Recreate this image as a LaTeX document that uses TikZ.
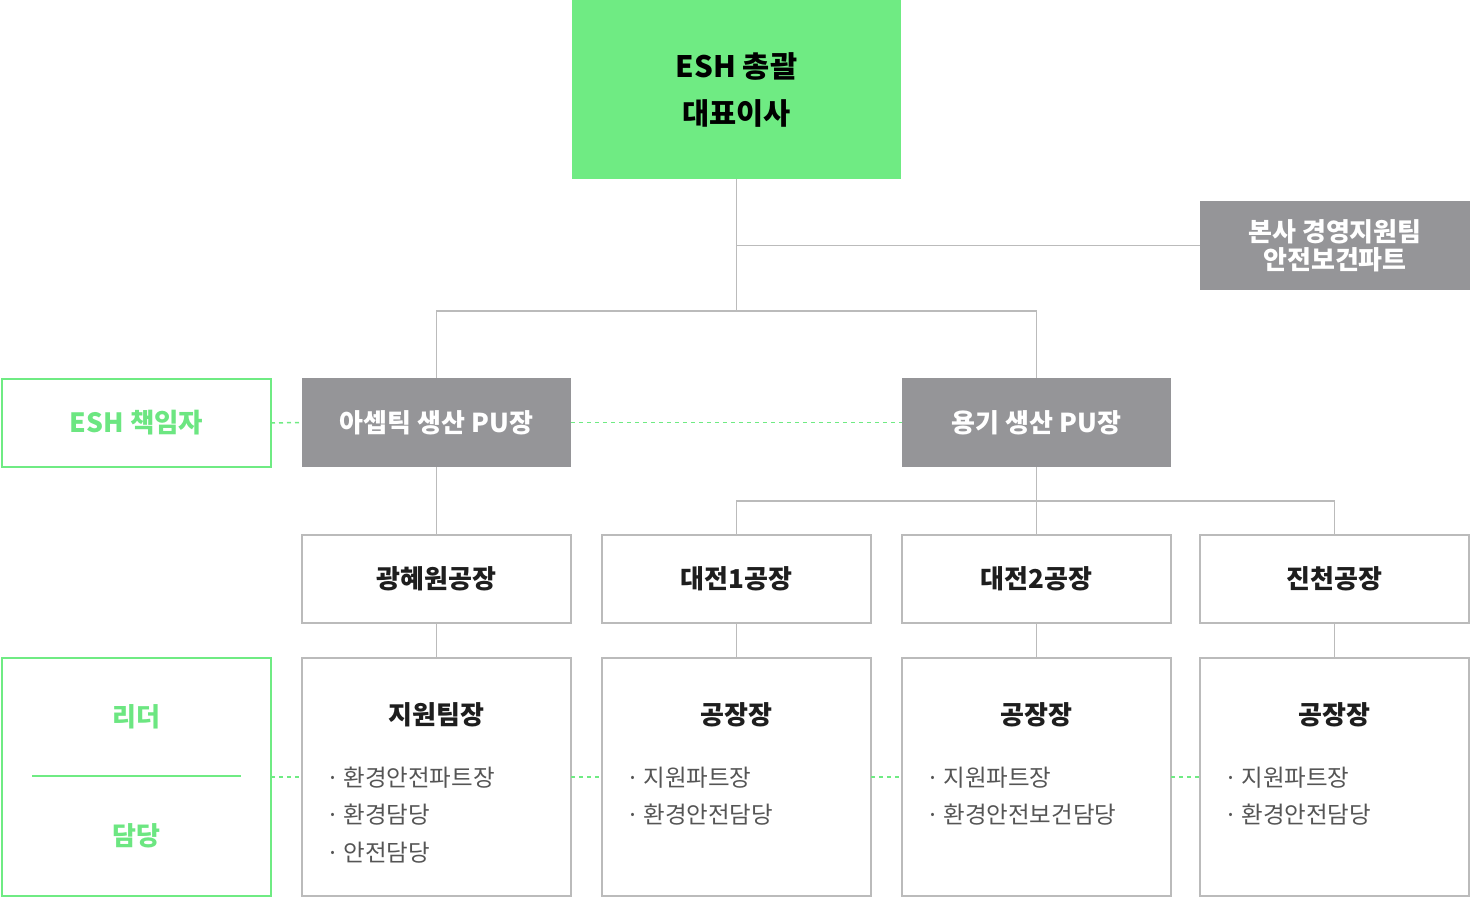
\documentclass[tikz,border=0pt]{standalone}
\usepackage{fontspec}
\newfontfamily\kr{Noto Sans CJK KR}
\definecolor{grn}{HTML}{6FEB83}
\definecolor{grnt}{HTML}{6CE681}
\definecolor{gbox}{HTML}{959598}
\definecolor{bline}{HTML}{BBBBBB}
\definecolor{dtxt}{HTML}{1E1E1E}
\definecolor{itxt}{HTML}{555555}
\tikzset{
  base/.style={rectangle, inner sep=0pt, outer sep=0pt, minimum width=269pt},
  topbox/.style={base, fill=grn, minimum width=329pt, minimum height=179pt, align=center, text=black, font=\kr\bfseries\fontsize{29.5}{47}\selectfont},
  graybox/.style={base, fill=gbox, minimum height=89pt, text=white, align=center, font=\kr\bfseries\fontsize{26}{28}\selectfont},
  grnbox/.style={base, draw=grn, line width=1.5pt, minimum height=88pt, text=grnt, font=\kr\bfseries\fontsize{26.5}{28}\selectfont},
  facbox/.style={base, draw=bline, line width=1.5pt, minimum height=88pt, text=dtxt, font=\kr\bfseries\fontsize{26}{28}\selectfont},
  bigbox/.style={base, draw=bline, line width=1.5pt, minimum height=238pt},
  bigleft/.style={base, draw=grn, line width=1.5pt, minimum height=238pt},
  ttl/.style={inner sep=0pt, text=dtxt, font=\kr\bfseries\fontsize{26}{28}\selectfont},
  gttl/.style={inner sep=0pt, text=grnt, font=\kr\bfseries\fontsize{26}{28}\selectfont},
  item/.style={inner sep=0pt, anchor=west, text=itxt, font=\kr\fontsize{23.5}{26}\selectfont},
  conn/.style={draw=bline, line width=1.5pt},
  gdash/.style={draw=grn, line width=1.5pt, dash pattern=on 4pt off 4pt},
}
\begin{document}
\begin{tikzpicture}[x=1pt, y=-1pt]
\useasboundingbox (0,0) rectangle (1470,897);
% top
\node[topbox] (top) at (736.5,89.5) {ESH 총괄\\대표이사};
\node[graybox, minimum width=270pt] (hq) at (1335,245.5) {본사 경영지원팀\\안전보건파트};
% PU
\node[graybox] (pu1) at (436.5,422.5) {아셉틱 생산 PU장};
\node[graybox] (pu2) at (1036.5,422.5) {용기 생산 PU장};
\node[grnbox] (esh) at (136.5,423) {ESH 책임자};
% factories
\node[facbox] (f1) at (436.5,579) {광혜원공장};
\node[facbox] (f2) at (736.5,579) {대전1공장};
\node[facbox] (f3) at (1036.5,579) {대전2공장};
\node[facbox] (f4) at (1334.5,579) {진천공장};
% bottom boxes
\node[bigleft] (lb) at (136.5,777) {};
\node[bigbox] (b1) at (436.5,777) {};
\node[bigbox] (b2) at (736.5,777) {};
\node[bigbox] (b3) at (1036.5,777) {};
\node[bigbox] (b4) at (1334.5,777) {};
% connectors
\coordinate (j1) at (736.5,311);
\coordinate (jhq) at (736.5,245.5);
\coordinate (j2) at (1036.5,501);
\draw[conn] (top.south) -- (j1);
\draw[conn] (jhq) -- (hq.west);
\draw[conn] (pu1.north) |- (j1) -| (pu2.north);
\draw[conn] (pu1.south) -- (f1.north);
\draw[conn] (pu2.south) -- (j2);
\draw[conn] (f2.north) |- (j2) -| (f4.north);
\draw[conn] (j2) -- (f3.north);
\draw[conn] (f1.south) -- (b1.north);
\draw[conn] (f2.south) -- (b2.north);
\draw[conn] (f3.south) -- (b3.north);
\draw[conn] (f4.south) -- (b4.north);
% dashed green
\draw[gdash] (esh.east) -- (pu1.west);
\draw[gdash] (pu1.east) -- (pu2.west);
\draw[gdash] (lb.east) -- (b1.west);
\draw[gdash] (b1.east) -- (b2.west);
\draw[gdash] (b2.east) -- (b3.west);
\draw[gdash] (b3.east) -- (b4.west);
% left panel
\node[gttl] (lead) at (136.5,717) {리더};
\node[gttl] (dam) at (136.5,836) {담당};
\coordinate (ls) at (32,776);
\coordinate (le) at (241,776);
\draw[draw=grn, line width=1.5pt] (ls) -- (le);
% box 1
\node[ttl] (t1) at (436.5,715) {지원팀장};
\node[item] (i11) at (326,778) {·\hspace{4pt}환경안전파트장};
\node[item] (i12) at (326,815) {·\hspace{4pt}환경담당};
\node[item] (i13) at (326,853) {·\hspace{4pt}안전담당};
% box 2
\node[ttl] (t2) at (736.5,715) {공장장};
\node[item] (i21) at (626,778) {·\hspace{4pt}지원파트장};
\node[item] (i22) at (626,815) {·\hspace{4pt}환경안전담당};
% box 3
\node[ttl] (t3) at (1036.5,715) {공장장};
\node[item] (i31) at (926,778) {·\hspace{4pt}지원파트장};
\node[item] (i32) at (926,815) {·\hspace{4pt}환경안전보건담당};
% box 4
\node[ttl] (t4) at (1334.5,715) {공장장};
\node[item] (i41) at (1224,778) {·\hspace{4pt}지원파트장};
\node[item] (i42) at (1224,815) {·\hspace{4pt}환경안전담당};
\end{tikzpicture}
\end{document}
